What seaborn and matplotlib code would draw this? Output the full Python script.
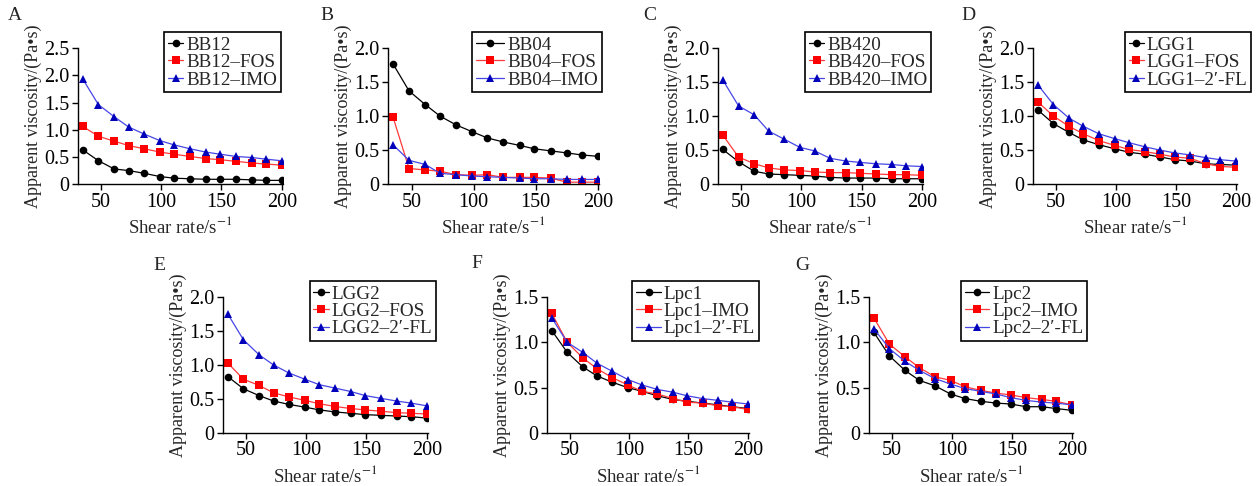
import numpy as np
import pandas as pd
import matplotlib
matplotlib.use("Agg")
import matplotlib.pyplot as plt
import seaborn as sns
from matplotlib.ticker import FuncFormatter

# shear rate points (s^-1)
shear_rate = [35, 48, 61, 73, 86, 99, 111, 124, 137, 149, 162, 175, 187, 200]

# A
bb12 = [0.63, 0.43, 0.28, 0.25, 0.20, 0.14, 0.11, 0.10, 0.09, 0.09, 0.09, 0.08, 0.07, 0.07]
bb12_fos = [1.06, 0.88, 0.79, 0.71, 0.65, 0.59, 0.55, 0.51, 0.47, 0.45, 0.42, 0.39, 0.37, 0.35]
bb12_imo = [1.93, 1.46, 1.24, 1.05, 0.92, 0.80, 0.72, 0.65, 0.59, 0.55, 0.51, 0.49, 0.46, 0.43]
# B
bb04 = [1.77, 1.37, 1.17, 1.00, 0.87, 0.77, 0.68, 0.62, 0.57, 0.52, 0.49, 0.46, 0.43, 0.41]
bb04_fos = [0.99, 0.23, 0.21, 0.19, 0.14, 0.13, 0.14, 0.10, 0.10, 0.10, 0.09, 0.03, 0.03, 0.03]
bb04_imo = [0.58, 0.35, 0.29, 0.16, 0.14, 0.12, 0.11, 0.10, 0.09, 0.08, 0.08, 0.07, 0.07, 0.07]
# C
bb420 = [0.51, 0.33, 0.19, 0.15, 0.14, 0.13, 0.12, 0.10, 0.09, 0.09, 0.09, 0.08, 0.08, 0.08]
bb420_fos = [0.72, 0.40, 0.30, 0.24, 0.21, 0.20, 0.18, 0.17, 0.17, 0.16, 0.15, 0.14, 0.14, 0.13]
bb420_imo = [1.53, 1.15, 1.02, 0.78, 0.66, 0.54, 0.49, 0.38, 0.34, 0.32, 0.30, 0.29, 0.27, 0.26]
# D
lgg1 = [1.09, 0.89, 0.76, 0.65, 0.58, 0.52, 0.47, 0.44, 0.40, 0.36, 0.34, 0.30, 0.29, 0.28]
lgg1_fos = [1.21, 1.00, 0.85, 0.74, 0.64, 0.57, 0.51, 0.48, 0.44, 0.40, 0.38, 0.30, 0.26, 0.25]
lgg1_fl = [1.46, 1.17, 0.97, 0.85, 0.74, 0.67, 0.61, 0.55, 0.50, 0.46, 0.43, 0.39, 0.36, 0.34]
# E
lgg2 = [0.83, 0.65, 0.55, 0.47, 0.42, 0.38, 0.34, 0.31, 0.29, 0.27, 0.26, 0.25, 0.24, 0.22]
lgg2_fos = [1.03, 0.79, 0.70, 0.59, 0.53, 0.48, 0.43, 0.39, 0.36, 0.34, 0.32, 0.30, 0.29, 0.28]
lgg2_fl = [1.75, 1.37, 1.15, 1.00, 0.88, 0.79, 0.71, 0.66, 0.61, 0.55, 0.51, 0.47, 0.44, 0.40]
# F
lpc1 = [1.13, 0.89, 0.73, 0.63, 0.56, 0.50, 0.46, 0.41, 0.37, 0.35, 0.33, 0.31, 0.29, 0.27]
lpc1_imo = [1.32, 1.00, 0.83, 0.71, 0.61, 0.53, 0.46, 0.43, 0.38, 0.34, 0.33, 0.30, 0.29, 0.26]
lpc1_fl = [1.27, 1.00, 0.89, 0.77, 0.68, 0.59, 0.53, 0.48, 0.45, 0.41, 0.38, 0.36, 0.34, 0.32]
# G
lpc2 = [1.11, 0.85, 0.69, 0.58, 0.52, 0.43, 0.38, 0.35, 0.33, 0.32, 0.29, 0.29, 0.27, 0.25]
lpc2_imo = [1.27, 0.98, 0.84, 0.72, 0.62, 0.58, 0.51, 0.47, 0.44, 0.42, 0.39, 0.37, 0.35, 0.31]
lpc2_fl = [1.15, 0.93, 0.79, 0.69, 0.60, 0.54, 0.49, 0.46, 0.43, 0.39, 0.36, 0.34, 0.33, 0.31]

sns.set_style("ticks")
plt.rcParams['font.family'] = ['Liberation Serif', 'DejaVu Serif']
plt.rcParams['mathtext.fontset'] = 'stix'

line_colors = ['black', '#ff3a3a', '#4646e6']
marker_colors = ['black', '#ff0000', '#0000bb']
markers = ['o', 's', '^']
msizes = [5.5, 6, 6]

# letter, labels, series, ymax, axes rect, legend right edge, handle length, letter pos (px)
panels = [
    ('A', ['BB12', 'BB12–FOS', 'BB12–IMO'], [bb12, bb12_fos, bb12_imo], 2.5,
     [0.0621, 0.621, 0.1632, 0.280], 0.99, 0.8, (15, 15)),
    ('B', ['BB04', 'BB04–FOS', 'BB04–IMO'], [bb04, bb04_fos, bb04_imo], 2.0,
     [0.3089, 0.621, 0.1680, 0.280], 1.014, 1.5, (327, 15)),
    ('C', ['BB420', 'BB420–FOS', 'BB420–IMO'], [bb420, bb420_fos, bb420_imo], 2.0,
     [0.5717, 0.621, 0.1632, 0.280], 1.04, 0.8, (650, 15)),
    ('D', ['LGG1', 'LGG1–FOS', 'LGG1–2′-FL'], [lgg1, lgg1_fos, lgg1_fl], 2.0,
     [0.8225, 0.621, 0.1624, 0.280], 1.07, 0.8, (968, 15)),
    ('E', ['LGG2', 'LGG2–FOS', 'LGG2–2′-FL'], [lgg2, lgg2_fos, lgg2_fl], 2.0,
     [0.1775, 0.109, 0.1632, 0.280], 1.04, 0.8, (159, 265)),
    ('F', ['Lpc1', 'Lpc1–IMO', 'Lpc1–2′-FL'], [lpc1, lpc1_imo, lpc1_fl], 1.5,
     [0.4355, 0.109, 0.1608, 0.280], 1.05, 1.3, (477, 263)),
    ('G', ['Lpc2', 'Lpc2–IMO', 'Lpc2–2′-FL'], [lpc2, lpc2_imo, lpc2_fl], 1.5,
     [0.6919, 0.109, 0.1624, 0.280], 1.07, 1.3, (802, 266)),
]

W, H = 1256, 486
fig = plt.figure(figsize=(W / 100, H / 100), dpi=100)

for letter, names, series, ymax, pos, leg_x, hlen, lpos in panels:
    ax = fig.add_axes(pos)
    for name, vals, lc, mc, m, ms in zip(names, series, line_colors, marker_colors, markers, msizes):
        df = pd.DataFrame({'shear': shear_rate, 'visc': vals})
        sns.lineplot(data=df, x='shear', y='visc', ax=ax, color=lc, marker=m,
                     markersize=ms, markeredgewidth=0, markerfacecolor=mc,
                     linewidth=0.9, label=name)
    ax.set_xlim(31, 201)
    ax.set_ylim(0, ymax)
    ax.set_xticks([50, 100, 150, 200])
    ax.set_yticks(np.arange(0, ymax + 0.01, 0.5))
    ax.yaxis.set_major_formatter(FuncFormatter(lambda v, _: '0' if v == 0 else f'{v:.1f}'))
    ax.tick_params(labelsize=14.5, length=4, width=1, pad=2, colors='black')
    for s in ['left', 'bottom']:
        ax.spines[s].set_linewidth(1)
        ax.spines[s].set_color('black')
    sns.despine(ax=ax)
    ax.set_xlabel('Shear rate/s$^{-1}$', fontsize=13.5, labelpad=3)
    ax.set_ylabel('Apparent viscosity/(Pa•s)', fontsize=13, labelpad=2)
    leg = ax.legend(loc='upper right', bbox_to_anchor=(leg_x, 1.115), fontsize=13.8,
                    frameon=True, fancybox=False, edgecolor='black', framealpha=1,
                    handlelength=hlen, handletextpad=0.15, labelspacing=0.0,
                    borderpad=0.2, borderaxespad=0)
    leg.get_frame().set_linewidth(1.2)
    fig.text(lpos[0] / W, 1 - lpos[1] / H, letter, fontsize=14,
             ha='center', va='center')

fig.savefig('out.png', dpi=100)
